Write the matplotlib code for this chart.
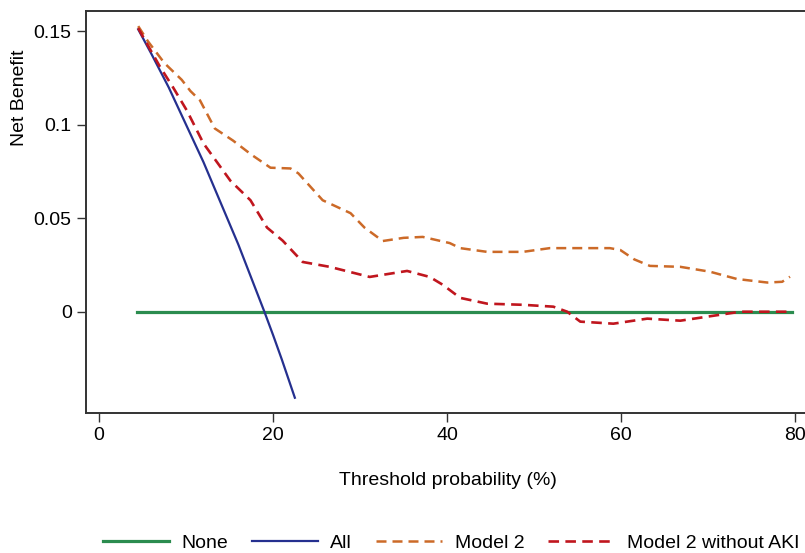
import matplotlib
matplotlib.use("Agg")
import matplotlib.pyplot as plt

plt.rcParams["font.family"] = ["Liberation Sans", "DejaVu Sans"]

# ---------- data ----------
none_x = [4.4, 79.6]
none_y = [0.0, 0.0]

all_x = [4.5, 6.0, 8.0, 10.0, 12.0, 14.0, 16.0, 18.0, 19.0, 20.0, 21.0, 22.5]
all_y = [0.151, 0.138, 0.120, 0.100, 0.080, 0.058, 0.036, 0.012, 0.000, -0.0125,
         -0.0255, -0.046]

m2_x = [4.5, 5.6, 7.5, 9.5, 10.5, 11.6, 13.3, 15.4, 17.5, 19.7, 22.0, 22.9, 25.7, 28.9,
        30.5, 32.6, 35.0, 37.2, 40.3, 41.5, 44.6, 48.7, 51.8, 55.0, 58.7, 59.9, 61.5,
        63.3, 66.8, 70.2, 73.3, 76.8, 78.5, 79.4]
m2_y = [0.1527, 0.1447, 0.133, 0.124, 0.118, 0.113, 0.098, 0.0915, 0.084, 0.077, 0.0766,
        0.074, 0.0596, 0.0527, 0.045, 0.0378, 0.0395, 0.040, 0.0367, 0.034, 0.032, 0.032,
        0.034, 0.034, 0.034, 0.033, 0.028, 0.0245, 0.024, 0.0214, 0.0175, 0.0156, 0.016,
        0.0187]

m2n_x = [4.5, 7.0, 8.5, 10.1, 12.0, 15.1, 17.4, 19.3, 21.1, 23.4, 26.5, 31.1, 35.4,
         38.0, 39.5, 41.5, 44.6, 48.7, 52.2, 53.8, 55.3, 59.1, 63.0, 66.8, 71.4, 73.7,
         79.4]
m2n_y = [0.1516, 0.131, 0.120, 0.1075, 0.090, 0.070, 0.0596, 0.045, 0.038, 0.0266, 0.024,
         0.0186, 0.0218, 0.0186, 0.0144, 0.0074, 0.0043, 0.0037, 0.0027, 0.0, -0.0053,
         -0.0064, -0.0037, -0.0048, -0.0016, 0.0, 0.0]

xticks = [0, 20, 40, 60, 80]
yticks = [0, 0.05, 0.1, 0.15]
ytick_labels = ["0", "0.05", "0.1", "0.15"]

# ---------- figure ----------
fig = plt.figure(figsize=(8.05, 5.53), dpi=100)
ax = fig.add_axes([86 / 805, 140.3 / 553, 724 / 805, 401.7 / 553])

dash = (0, (4, 2.4))
ax.plot(none_x, none_y, color="#2b8c4f", lw=2.3, label="None", zorder=3)
ax.plot(all_x, all_y, color="#25308f", lw=1.6, label="All", zorder=4)
ax.plot(m2_x, m2_y, color="#cc6a28", lw=1.8, ls=dash, label="Model 2", zorder=5)
ax.plot(m2n_x, m2n_y, color="#c0161e", lw=1.9, ls=dash, label="Model 2 without AKI", zorder=6)

ax.set_xlim(-1.5, 81.7)
ax.set_ylim(-0.054, 0.1608)
ax.set_xticks(xticks)
ax.set_yticks(yticks)
ax.set_yticklabels(ytick_labels)
ax.tick_params(direction="out", length=6.3, width=1.0, labelsize=14, pad=4.0, color="#333")
for s in ax.spines.values():
    s.set_color("#333")
    s.set_linewidth(1.4)

ax.set_xlabel("Threshold probability (%)", fontsize=14, labelpad=20)
fig.text(19 / 805, 1 - 98 / 553, "Net Benefit", rotation=90, fontsize=14,
         ha="center", va="center")

fig.legend(loc="center", bbox_to_anchor=(451 / 805, 10 / 553), ncol=4, frameon=False,
           fontsize=14, handlelength=3.4, handletextpad=0.62, columnspacing=1.25,
           borderaxespad=0)

fig.savefig("out.png", dpi=100)
